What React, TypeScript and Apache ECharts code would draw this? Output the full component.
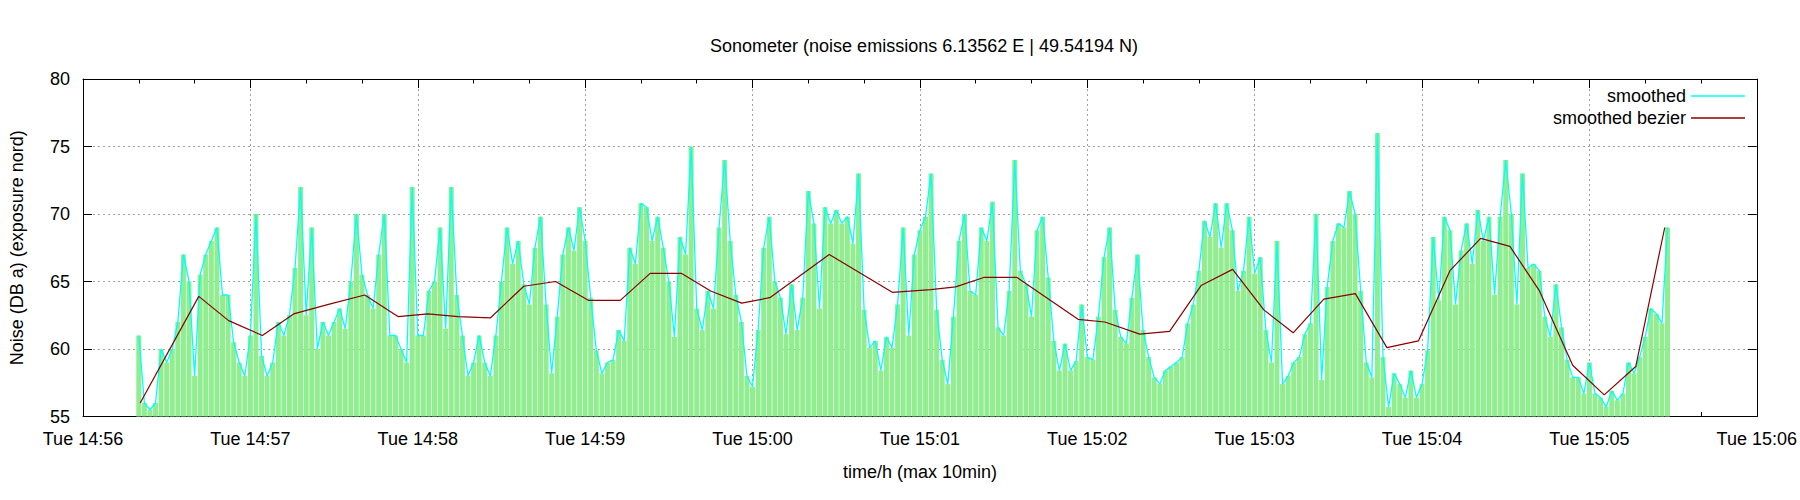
import { useEffect, useRef } from 'react';
import * as echarts from 'echarts';

const FONT = '"Liberation Sans", Arial, Helvetica, sans-serif';

// x values are seconds after Tue 14:56:00
const tickLabels = [
  'Tue 14:56', 'Tue 14:57', 'Tue 14:58', 'Tue 14:59', 'Tue 15:00', 'Tue 15:01',
  'Tue 15:02', 'Tue 15:03', 'Tue 15:04', 'Tue 15:05', 'Tue 15:06',
];

const sampleStart = 20;
const sampleStep = 2;

// noise level (dB a), one value every 2 s from 14:56:20
const noiseDb = [
  61, 56, 55.5, 56, 60, 59, 60, 62, 67, 65,
  58, 65.5, 67, 68, 69, 64, 64, 60.5, 59, 58,
  61, 70, 59.5, 58, 59, 62, 61, 62.5, 66, 72,
  62.5, 69, 60, 62, 61, 62, 63, 61.5, 65, 70,
  65.5, 64, 63, 67, 70, 61, 61, 60, 59, 72,
  61, 61, 64.3, 65, 69, 61.5, 72, 64, 61, 58,
  59, 61, 59, 58, 61, 65, 69, 66.3, 68, 64.8,
  63.3, 67.5, 69.8, 63.3, 58.2, 62.4, 67, 69, 67.3, 70.5,
  68, 63.8, 59.9, 58.2, 59, 59.2, 61.4, 60.6, 67.5, 66.3,
  70.8, 70.5, 68, 69.8, 67.5, 65, 60.9, 68.3, 67, 75,
  63, 61.4, 64.3, 63, 69, 74, 68, 64, 62, 58,
  57.2, 61.4, 67.5, 69.8, 65, 63.8, 61.1, 64.8, 61.4, 63.8,
  71.7, 69.3, 63, 70.5, 69.3, 70.3, 69.3, 69.8, 67.8, 73,
  62.9, 60.1, 60.6, 58.4, 60.9, 60.1, 63.3, 69, 61, 67,
  68.8, 69.8, 73, 62.9, 59.2, 57.4, 62.4, 68, 70, 64.3,
  64, 69, 68, 70.9, 61.6, 61, 64.3, 74, 65.8, 64.8,
  62.4, 68.8, 69.8, 65.3, 60.6, 58.4, 60.4, 58.4, 59.1, 63.3,
  59.4, 59.2, 62.4, 66.8, 69, 62.9, 60.9, 60.4, 63.8, 67,
  61.4, 59.4, 57.9, 57.4, 58.4, 58.7, 59, 59.4, 61.9, 63.3,
  65.8, 69.5, 68.3, 70.8, 67.5, 70.8, 68.8, 64.3, 65.8, 69.8,
  65.6, 66.8, 61.4, 59, 68, 57.4, 58, 59, 59.4, 61.1,
  61.9, 70, 57.7, 64.6, 68, 69.3, 69, 71.7, 70, 64.3,
  59, 57.9, 76, 59.4, 55.7, 58.2, 57.4, 56.4, 58.4, 56.4,
  57.4, 59.9, 68.3, 63.6, 69.8, 68.8, 63.3, 67.3, 69.3, 66.3,
  70.3, 68, 69.8, 64, 69.8, 74, 70, 63.3, 73, 66,
  66.3, 65.8, 62.4, 60.9, 64.8, 61.6, 59.2, 57.9, 57.9, 56.7,
  59, 56.7, 56.4, 55.7, 56.9, 56.2, 56.7, 59, 58.2, 59.4,
  60.9, 63, 62.6, 61.9, 69,
];

// smoothed bezier curve vertices
const bezierSec = [
  20.5, 41.5, 52.2, 64.3, 75.5, 88, 101, 112.9, 123.6, 134.5,
  146, 158, 169.4, 181.3, 192.6, 203.3, 214.6, 225, 236.1, 246.2,
  267.5, 290.1, 303.9, 312.8, 322.9, 334.8, 356.7, 366.3, 378.8, 389.5,
  400.8, 412.1, 423.3, 433.8, 444.8, 456.1, 467.4, 478.7, 490, 501,
  511.5, 522.1, 534, 545.3, 556.6, 567,
];
const bezierDb = [
  56.0, 63.9, 62.1, 61.0, 62.6, 63.3, 64.0, 62.4, 62.6, 62.4,
  62.3, 64.65, 65.0, 63.6, 63.6, 65.6, 65.6, 64.3, 63.4, 63.8,
  67.0, 64.2, 64.4, 64.6, 65.3, 65.3, 62.2, 62.0, 61.1, 61.3,
  64.7, 65.9, 62.9, 61.2, 63.7, 64.1, 60.1, 60.6, 65.8, 68.2,
  67.6, 64.3, 58.8, 56.6, 58.7, 69.0,
];

export default function App() {
  const chartRef = useRef<HTMLDivElement>(null);

  useEffect(() => {
    if (!chartRef.current) return;
    const chart = echarts.init(chartRef.current, null, { renderer: 'svg' });

    const samples = noiseDb.map((v, i) => [sampleStart + i * sampleStep, v]);
    const bezier = bezierSec.map((s, i) => [s, bezierDb[i]]);

    const black = { color: '#000', width: 1 };
    const gridLine = { show: true, lineStyle: { color: '#a0a0a0', type: [2, 3] as number[], width: 1 } };
    const textStyle = { color: '#000', fontSize: 18, fontFamily: FONT };

    const option: echarts.EChartsOption = {
      animation: false,
      backgroundColor: '#fff',
      textStyle: { fontFamily: FONT },
      grid: { left: 82.5, right: 34, top: 79, bottom: 83.5 },
      graphic: [
        {
          type: 'text',
          x: 924,
          y: 46,
          style: {
            text: 'Sonometer (noise emissions 6.13562 E | 49.54194 N)',
            fill: '#000',
            font: `18px ${FONT}`,
            align: 'center',
            verticalAlign: 'middle',
          },
        },
      ],
      legend: {
        data: [
          { name: 'smoothed', icon: 'rect' },
          { name: 'smoothed bezier', icon: 'rect' },
        ],
        orient: 'vertical',
        right: 50,
        top: 82,
        align: 'right',
        itemWidth: 54,
        itemHeight: 1.5,
        itemGap: 4,
        selectedMode: false,
        textStyle: { ...textStyle, padding: [0, 0, 0, 4] },
      },
      xAxis: [
        {
          type: 'value',
          min: 0,
          max: 600,
          interval: 60,
          position: 'bottom',
          name: 'time/h (max 10min)',
          nameLocation: 'middle',
          nameGap: 46,
          nameTextStyle: textStyle,
          axisLine: { show: true, onZero: false, lineStyle: black },
          axisTick: { show: true, inside: true, length: 9, lineStyle: black },
          minorTick: { show: true, splitNumber: 3, length: 4.5, lineStyle: black },
          axisLabel: {
            ...textStyle,
            margin: 13,
            formatter: (v: number) => tickLabels[Math.round(v / 60)] ?? '',
          },
          splitLine: gridLine,
        },
        {
          type: 'value',
          min: 0,
          max: 600,
          interval: 60,
          position: 'top',
          axisLine: { show: true, onZero: false, lineStyle: black },
          axisTick: { show: true, inside: true, length: 9, lineStyle: black },
          minorTick: { show: true, splitNumber: 3, length: 4.5, lineStyle: black },
          axisLabel: { show: false },
          splitLine: { show: false },
        },
      ],
      yAxis: [
        {
          type: 'value',
          min: 55,
          max: 80,
          interval: 5,
          position: 'left',
          name: 'Noise (DB a) (exposure nord)',
          nameLocation: 'middle',
          nameRotate: 90,
          nameGap: 57,
          nameTextStyle: textStyle,
          axisLine: { show: true, onZero: false, lineStyle: black },
          axisTick: { show: true, inside: true, length: 9, lineStyle: black },
          axisLabel: { ...textStyle, margin: 13 },
          splitLine: gridLine,
        },
        {
          type: 'value',
          min: 55,
          max: 80,
          interval: 5,
          position: 'right',
          axisLine: { show: true, onZero: false, lineStyle: black },
          axisTick: { show: true, inside: true, length: 9, lineStyle: black },
          axisLabel: { show: false },
          splitLine: { show: false },
        },
      ],
      series: [
        {
          type: 'bar',
          name: 'noise',
          data: samples,
          barWidth: 5,
          itemStyle: { color: '#90ee90' },
          clip: true,
          silent: true,
          z: 1,
        },
        {
          type: 'line',
          name: 'smoothed',
          data: samples,
          color: '#00ffff',
          symbol: 'none',
          lineStyle: { color: '#00ffff', width: 1.3 },
          silent: true,
          z: 2,
        },
        {
          type: 'line',
          name: 'smoothed bezier',
          data: bezier,
          color: '#8b0000',
          symbol: 'none',
          lineStyle: { color: '#8b0000', width: 1.2 },
          silent: true,
          z: 3,
        },
      ],
    };

    chart.setOption(option);
    return () => chart.dispose();
  }, []);

  return (
    <div
      ref={chartRef}
      style={{ position: 'fixed', left: 0, top: 0, width: 1800, height: 500, background: '#fff' }}
    />
  );
}
